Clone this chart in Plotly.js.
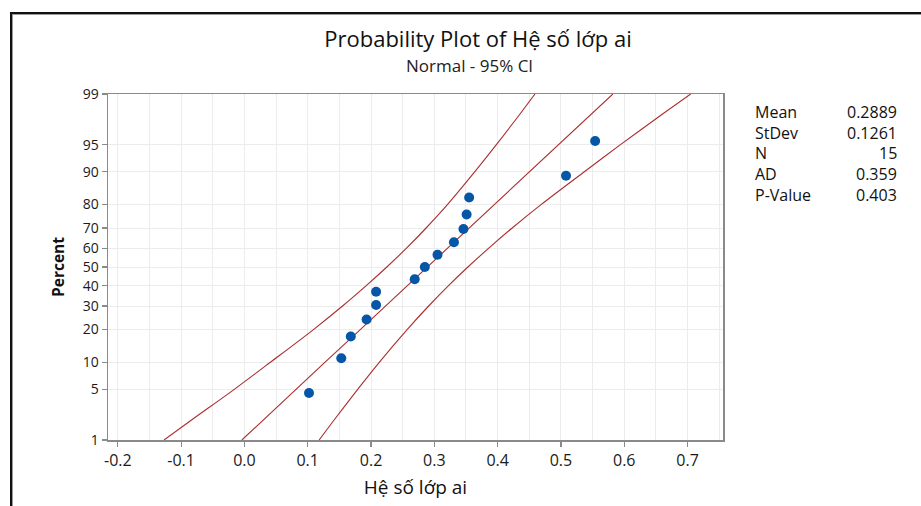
<!DOCTYPE html>
<html>
<head>
<meta charset="utf-8">
<script src="https://cdn.plot.ly/plotly-3.0.1.min.js"></script>
<style>
  html, body { margin: 0; padding: 0; background: #fff; }
  #wrap { position: relative; width: 921px; height: 506px; overflow: hidden; }
  #chart { position: absolute; left: 0; top: 0; width: 921px; height: 506px; }
  #frame { position: absolute; left: 10px; top: 12px; width: 930px; height: 520px;
           border-top: 2px solid #111; border-left: 2px solid #111;
           box-shadow: inset 1px 1px 0 #9a9a9a; pointer-events: none; }
</style>
</head>
<body>
<div id="wrap"><div id="chart"></div><div id="frame"></div></div>
<script>
// ---- data ----
const dataX   = [0.102, 0.153, 0.168, 0.193, 0.208, 0.208, 0.269, 0.285, 0.305, 0.331, 0.346, 0.351, 0.355, 0.508, 0.554];
const dataPct = [4.5, 11.0, 17.5, 24.0, 30.5, 37.0, 43.5, 50.0, 56.5, 63.0, 69.5, 76.0, 82.5, 89.0, 95.5];

const curvePct = [1, 2, 5, 10, 20, 30, 40, 50, 60, 70, 80, 90, 95, 98, 99];
const fitX     = [-0.004, 0.030, 0.081, 0.127, 0.183, 0.223, 0.257, 0.289, 0.321, 0.355, 0.395, 0.451, 0.496, 0.548, 0.582];
const lowerX   = [-0.127, -0.083, -0.016, 0.041, 0.109, 0.155, 0.192, 0.225, 0.256, 0.287, 0.321, 0.364, 0.398, 0.435, 0.459];
const upperX   = [0.118, 0.142, 0.179, 0.213, 0.257, 0.291, 0.322, 0.353, 0.386, 0.423, 0.469, 0.537, 0.594, 0.660, 0.705];

const yTickPct  = [1, 5, 10, 20, 30, 40, 50, 60, 70, 80, 90, 95, 99];
const xTickVals = [-0.2, -0.1, 0.0, 0.1, 0.2, 0.3, 0.4, 0.5, 0.6, 0.7];
const xTickText = ['-0.2', '-0.1', '0.0', '0.1', '0.2', '0.3', '0.4', '0.5', '0.6', '0.7'];

const statNames  = ['Mean', 'StDev', 'N', 'AD', 'P-Value'];
const statValues = ['0.2889', '0.1261', '15', '0.359', '0.403'];

const titleText    = 'Probability Plot of Hệ số lớp ai';
const subtitleText = 'Normal - 95% CI';
const xTitle = 'Hệ số lớp ai';
const yTitle = 'Percent';

// ---- normal probability scale (inverse normal CDF, Acklam) ----
function probit(p) {
  const a = [-3.969683028665376e+01, 2.209460984245205e+02, -2.759285104469687e+02, 1.383577518672690e+02, -3.066479806614716e+01, 2.506628277459239e+00];
  const b = [-5.447609879822406e+01, 1.615858368580409e+02, -1.556989798598866e+02, 6.680131188771972e+01, -1.328068155288572e+01];
  const c = [-7.784894002430293e-03, -3.223964580411365e-01, -2.400758277161838e+00, -2.549671010029745e+00, 4.374664141464968e+00, 2.938163982698783e+00];
  const d = [7.784695709041462e-03, 3.224671290700398e-01, 2.445134137142996e+00, 3.754408661907416e+00];
  const pl = 0.02425, ph = 1 - pl;
  let q, r;
  if (p < pl) {
    q = Math.sqrt(-2 * Math.log(p));
    return (((((c[0]*q+c[1])*q+c[2])*q+c[3])*q+c[4])*q+c[5]) / ((((d[0]*q+d[1])*q+d[2])*q+d[3])*q+1);
  } else if (p <= ph) {
    q = p - 0.5; r = q * q;
    return (((((a[0]*r+a[1])*r+a[2])*r+a[3])*r+a[4])*r+a[5])*q / (((((b[0]*r+b[1])*r+b[2])*r+b[3])*r+b[4])*r+1);
  } else {
    q = Math.sqrt(-2 * Math.log(1 - p));
    return -(((((c[0]*q+c[1])*q+c[2])*q+c[3])*q+c[4])*q+c[5]) / ((((d[0]*q+d[1])*q+d[2])*q+d[3])*q+1);
  }
}
const Z = pct => probit(pct / 100);

const lineColor = '#ac2e2e';
const ptColor = '#0656a8';
const fontFam = '"Open Sans", "Noto Sans", "DejaVu Sans", sans-serif';

const traces = [
  { x: lowerX, y: curvePct.map(Z), type: 'scatter', mode: 'lines',
    line: { color: lineColor, width: 1.1, shape: 'spline' }, hoverinfo: 'skip' },
  { x: upperX, y: curvePct.map(Z), type: 'scatter', mode: 'lines',
    line: { color: lineColor, width: 1.1, shape: 'spline' }, hoverinfo: 'skip' },
  { x: fitX, y: curvePct.map(Z), type: 'scatter', mode: 'lines',
    line: { color: lineColor, width: 1.1 }, hoverinfo: 'skip' },
  { x: dataX, y: dataPct.map(Z), type: 'scatter', mode: 'markers',
    marker: { color: ptColor, size: 10, symbol: 'circle', line: { width: 0 } } }
];

// plot area in pixels: x 108..723, y 94..440
const L = 108, R = 723, T = 94, B = 440;
const px2paperX = px => (px - L) / (R - L);
const px2paperY = py => (B - py) / (B - T);

const annotations = [
  { text: subtitleText, xref: 'paper', yref: 'paper', x: px2paperX(469), y: px2paperY(66),
    xanchor: 'center', yanchor: 'middle', showarrow: false,
    font: { family: fontFam, size: 17, color: '#222' } }
];
const statRowsY = [112, 132.5, 153, 174, 194.5];
statNames.forEach((n, i) => {
  annotations.push({ text: n, xref: 'paper', yref: 'paper', x: px2paperX(753), y: px2paperY(statRowsY[i]),
    xanchor: 'left', yanchor: 'middle', showarrow: false,
    font: { family: fontFam, size: 16, color: '#111' } });
  annotations.push({ text: statValues[i], xref: 'paper', yref: 'paper', x: px2paperX(899), y: px2paperY(statRowsY[i]),
    xanchor: 'right', yanchor: 'middle', showarrow: false,
    font: { family: fontFam, size: 16, color: '#111' } });
});

const axisCommon = {
  showline: true, linecolor: '#8a8a8a', linewidth: 1.5, mirror: true,
  ticks: 'outside', ticklen: 5, tickcolor: '#8a8a8a', tickwidth: 1.2,
  showgrid: true, gridcolor: '#ececec', gridwidth: 1, zeroline: false
};

const layout = {
  width: 921, height: 506,
  margin: { l: L, r: 921 - R, t: T, b: 506 - B, pad: 0 },
  paper_bgcolor: '#ffffff', plot_bgcolor: '#ffffff',
  showlegend: false,
  title: { text: titleText, x: 478 / 921, xanchor: 'center', xref: 'container',
           y: 1 - 39 / 506, yanchor: 'middle', yref: 'container',
           font: { family: fontFam, size: 22, color: '#111' } },
  xaxis: Object.assign({}, axisCommon, {
    range: [-0.2155, 0.756], tickmode: 'array', tickvals: xTickVals, ticktext: xTickText,
    tickfont: { family: fontFam, size: 16, color: '#1a1a1a' },
    minor: { dtick: 0.05, tick0: 0, showgrid: true, gridcolor: '#ececec', gridwidth: 1, ticks: '' },
    title: { text: xTitle, standoff: 11, font: { family: fontFam, size: 19, color: '#111' } }
  }),
  yaxis: Object.assign({}, axisCommon, {
    range: [Z(1), Z(99)], tickmode: 'array', tickvals: yTickPct.map(Z), ticktext: yTickPct.map(String),
    tickfont: { family: fontFam, size: 14, color: '#1a1a1a' },
    title: { text: '<b>' + yTitle + '</b>', standoff: 14, font: { family: fontFam, size: 15.5, color: '#111' } }
  }),
  annotations: annotations
};

Plotly.newPlot('chart', traces, layout, { displayModeBar: false, staticPlot: true });
</script>
</body>
</html>
